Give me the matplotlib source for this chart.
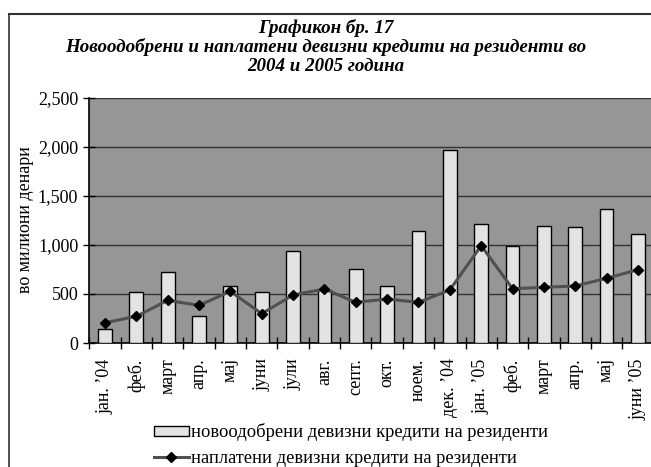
import matplotlib
matplotlib.use("Agg")
import matplotlib.pyplot as plt
from matplotlib.lines import Line2D
import numpy as np

categories = ["јан. ’04", "феб.", "март", "апр.", "мај", "јуни", "јули", "авг.",
              "септ.", "окт.", "ноем.", "дек. ’04", "јан. ’05", "феб.", "март",
              "апр.", "мај", "јуни ’05"]
new_loans = [143, 517, 721, 272, 578, 517, 939, 545, 759, 578, 1146, 1969,
             1211, 993, 1197, 1187, 1367, 1109]
repaid_loans = [207, 272, 435, 384, 527, 299, 490, 551, 415, 449, 415, 541,
                993, 554, 568, 582, 660, 748]
yticks = [0, 500, 1000, 1500, 2000, 2500]
ytick_labels = ["0", "500", "1,000", "1,500", "2,000", "2,500"]

title = "Графикон бр. 17\nНовоодобрени и наплатени девизни кредити на резиденти во\n2004 и 2005 година"
ylabel = "во милиони денари"
legend_labels = ["новоодобрени девизни кредити на резиденти",
                 "наплатени девизни кредити на резиденти"]

W, H = 651, 467
fig = plt.figure(figsize=(W / 100, H / 100), dpi=100)
serif = ["Liberation Serif", "DejaVu Serif"]
FS = 13

ax_left, ax_right = 89.3, 653.6
ax_top, ax_bottom = 98, 343
ax = fig.add_axes([ax_left / W, (H - ax_bottom) / H, (ax_right - ax_left) / W,
                   (ax_bottom - ax_top) / H])
ax.set_facecolor("#969696")

x = np.arange(len(categories))
bars = ax.bar(x, new_loans, width=0.44, color="#E3E3E3", edgecolor="black",
              linewidth=1.0, zorder=3)
line, = ax.plot(x, repaid_loans, color="#505050", linewidth=2.2, marker="D",
                markersize=5.5, markerfacecolor="black", markeredgecolor="black",
                zorder=4)

ax.set_xlim(-0.5, len(categories) - 0.5)
ax.set_ylim(0, 2500)
ax.set_yticks(yticks)
ax.set_yticklabels(ytick_labels, fontfamily=serif, fontsize=FS)
ax.yaxis.grid(True, color="#333333", linewidth=1.0, zorder=1)
ax.set_axisbelow(True)

ax.set_xticks(x)
ax.set_xticklabels(categories, rotation=90, fontfamily=serif, fontsize=FS,
                   va="top", ha="center")
ax.tick_params(axis="x", which="major", length=0, pad=11)
ax.set_xticks(np.arange(len(categories) + 1) - 0.5, minor=True)
ax.tick_params(axis="x", which="minor", direction="inout", length=9, width=1,
               color="black")
ax.tick_params(axis="y", direction="inout", length=8, width=1, color="black", pad=4)

for s in ["top", "right"]:
    ax.spines[s].set_visible(False)
ax.spines["left"].set_color("black")
ax.spines["bottom"].set_color("black")
ax.spines["left"].set_linewidth(1.2)
ax.spines["bottom"].set_linewidth(1.2)

fig.text(26 / W, 1 - 220 / H, ylabel, rotation=90, ha="center", va="center",
         fontfamily=serif, fontsize=FS)

fig.text(326 / W, 1 - 19 / H, title, ha="center", va="top", fontfamily=serif,
         fontsize=13.7, fontweight="bold", fontstyle="italic", linespacing=1.1)

# legend
leg = fig.legend([bars, line], legend_labels, loc="upper left",
                 bbox_to_anchor=(147 / W, 1 - 416 / H), frameon=False,
                 prop={"family": serif, "size": 13.3}, handlelength=1.85,
                 handleheight=0.45, handletextpad=0.15, labelspacing=0.45,
                 borderaxespad=0)

# outer frame (cropped at right and bottom)
fig.add_artist(Line2D([9 / W, 1.0], [1 - 13.5 / H, 1 - 13.5 / H], color="#333333",
                      linewidth=1.5, transform=fig.transFigure))
fig.add_artist(Line2D([9 / W, 9 / W], [0, 1 - 13.5 / H], color="#333333",
                      linewidth=1.2, transform=fig.transFigure))

fig.savefig("out.png", dpi=100)
